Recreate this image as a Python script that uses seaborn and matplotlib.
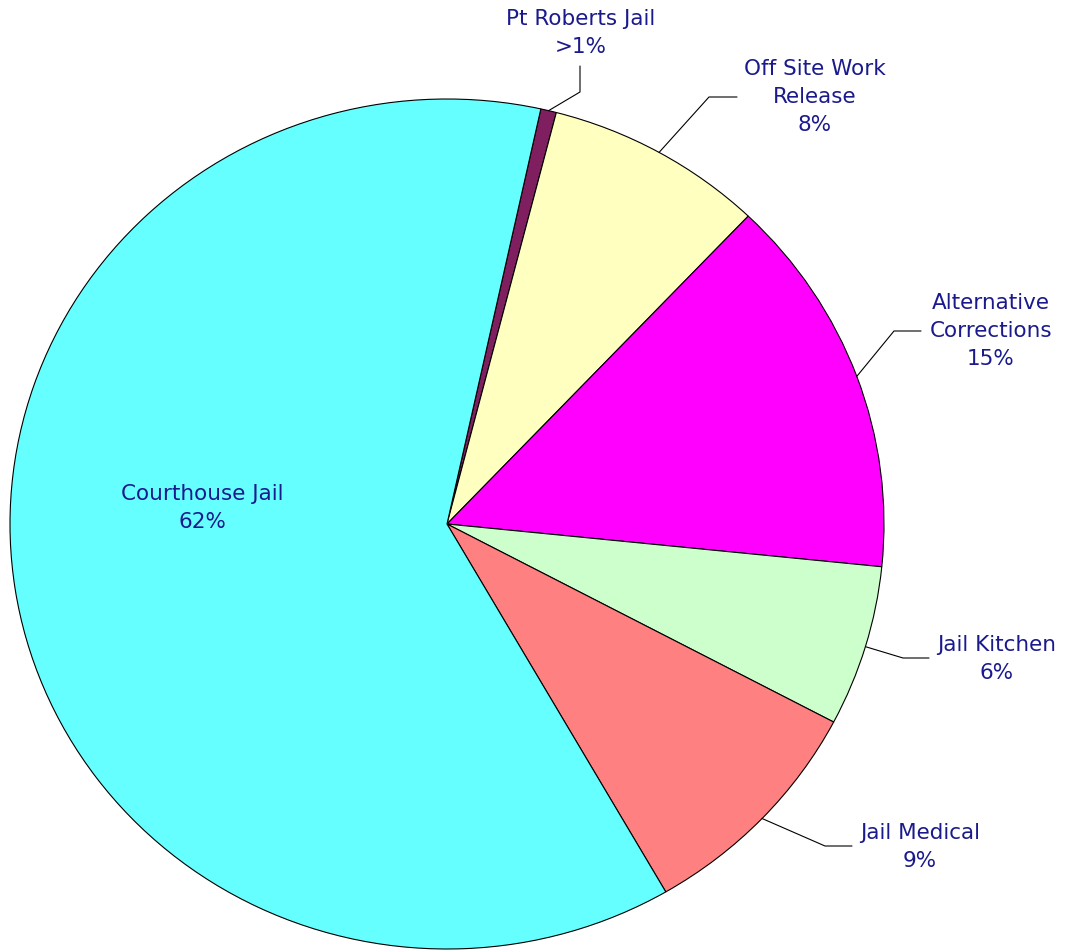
import numpy as np
import matplotlib
matplotlib.use("Agg")
import matplotlib.pyplot as plt
import seaborn as sns

sns.set_theme(style="white")
plt.rcParams['font.family'] = ['DejaVu Sans']

# ---- data ----
categories = ["Pt Roberts Jail", "Off Site Work\nRelease", "Alternative\nCorrections",
              "Jail Kitchen", "Jail Medical", "Courthouse Jail"]
shares = [0.58, 8.08, 14.5, 6.11, 8.94, 61.79]
pct_labels = [">1%", "8%", "15%", "6%", "9%", "62%"]
colors = ["#7F1F5F", "#FFFFC0", "#FF00FF", "#CCFFCC", "#FF8080", "#66FFFF"]

W, H = 1068, 953
CX, CY = 447, 525          # pie centre in pixels
RX, RY = 437, 425          # pie radii in pixels

fig = plt.figure(figsize=(W / 100, H / 100), dpi=100)
ax = fig.add_axes([0, 0, 1, 1])

wedges, _ = ax.pie(shares, colors=colors, startangle=77.6, counterclock=False,
                   radius=1.0, wedgeprops=dict(edgecolor="black", linewidth=0.8))
ax.set_aspect("auto")
ax.set_xlim(-CX / RX, (W - CX) / RX)
ax.set_ylim(-(H - CY) / RY, CY / RY)
ax.axis("off")


def px(x, y):
    return (x - CX) / RX, (CY - y) / RY


text_color = "#1A1A8C"
# label layout: (text centre px, elbow px, end px) ; None for inside label
layout = [
    ((581, 33), (580, 93), (580, 67)),
    ((815, 97), (709, 98), (737, 98)),
    ((991, 331), (894, 332), (921, 332)),
    ((997, 659), (903, 659), (929, 659)),
    ((920, 847), (825, 847), (852, 847)),
    ((202, 508), None, None),
]

for w, cat, pl, (tc, elbow, end) in zip(wedges, categories, pct_labels, layout):
    tx, ty = px(*tc)
    ax.text(tx, ty, f"{cat}\n{pl}", ha="center", va="center", fontsize=15.5,
            color=text_color, linespacing=1.52)
    if elbow is not None:
        mid = np.deg2rad((w.theta1 + w.theta2) / 2)
        ax_, ay_ = np.cos(mid), np.sin(mid)
        ex, ey = px(*elbow)
        fx, fy = px(*end)
        ax.plot([ax_, ex, fx], [ay_, ey, fy], color="black", linewidth=0.8)

fig.savefig("out.png", dpi=100, facecolor="white")
